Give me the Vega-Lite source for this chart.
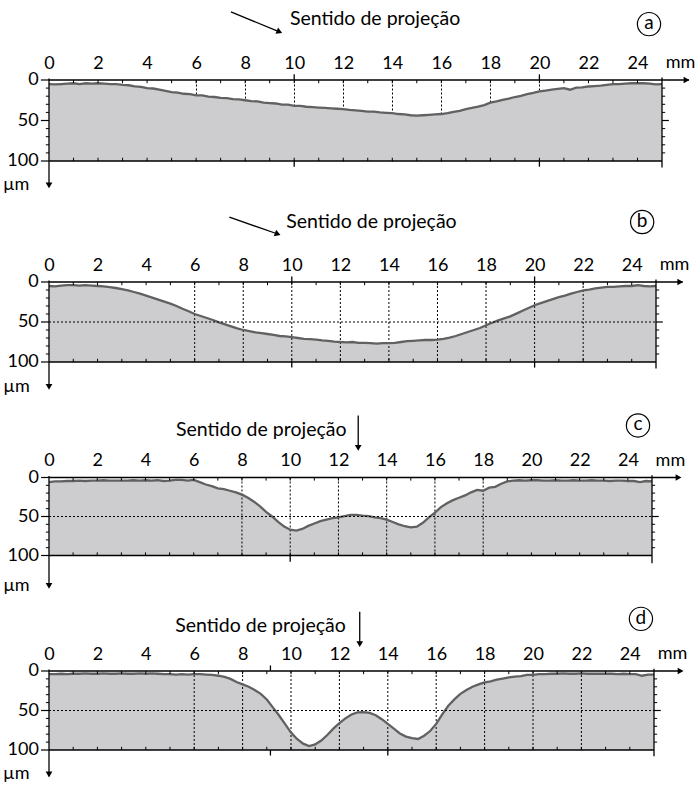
{
"$schema": "https://vega.github.io/schema/vega-lite/v6.json",
"padding": {"left": 2, "top": 9, "right": 0, "bottom": 0},
"bounds": "flush",
"spacing": 121,
"config": {"view": {"stroke": null}, "text": {"font": "Lato"}, "axis": {"labelFont": "Lato"}, "axisY": {"disable": true}},
"datasets": {
"a": [{"x":0,"d":5},{"x":0.25,"d":5.5},{"x":0.5,"d":5},{"x":0.75,"d":4.5},{"x":1,"d":4},{"x":1.25,"d":5},{"x":1.5,"d":4},{"x":1.75,"d":4.5},{"x":2,"d":4},{"x":2.25,"d":4.5},{"x":2.5,"d":5},{"x":2.75,"d":5},{"x":3,"d":6},{"x":3.25,"d":6.5},{"x":3.5,"d":8},{"x":3.75,"d":8.5},{"x":4,"d":10},{"x":4.25,"d":10.5},{"x":4.5,"d":12},{"x":4.75,"d":13.5},{"x":5,"d":15},{"x":5.25,"d":15.5},{"x":5.5,"d":17},{"x":5.75,"d":17.5},{"x":6,"d":19},{"x":6.25,"d":19},{"x":6.5,"d":20.5},{"x":6.75,"d":21},{"x":7,"d":22},{"x":7.25,"d":22.5},{"x":7.5,"d":23.5},{"x":7.75,"d":24},{"x":8,"d":25},{"x":8.25,"d":26},{"x":8.5,"d":26.5},{"x":8.75,"d":28},{"x":9,"d":28.5},{"x":9.25,"d":29},{"x":9.5,"d":30.5},{"x":9.75,"d":30.5},{"x":10,"d":32},{"x":10.25,"d":32},{"x":10.5,"d":33},{"x":10.75,"d":33.5},{"x":11,"d":34},{"x":11.25,"d":34.5},{"x":11.5,"d":35},{"x":11.75,"d":35.5},{"x":12,"d":36},{"x":12.25,"d":37},{"x":12.5,"d":37.5},{"x":12.75,"d":38},{"x":13,"d":39},{"x":13.25,"d":39},{"x":13.5,"d":40},{"x":13.75,"d":40.5},{"x":14,"d":41},{"x":14.25,"d":42},{"x":14.5,"d":42.5},{"x":14.75,"d":43.5},{"x":15,"d":44},{"x":15.25,"d":43.5},{"x":15.5,"d":43},{"x":15.75,"d":42.5},{"x":16,"d":42},{"x":16.25,"d":41},{"x":16.5,"d":39.5},{"x":16.75,"d":38},{"x":17,"d":36},{"x":17.25,"d":34.5},{"x":17.5,"d":33},{"x":17.75,"d":31},{"x":18,"d":28},{"x":18.25,"d":26.5},{"x":18.5,"d":24.5},{"x":18.75,"d":23},{"x":19,"d":21},{"x":19.25,"d":19.5},{"x":19.5,"d":17.5},{"x":19.75,"d":16},{"x":20,"d":14},{"x":20.25,"d":13},{"x":20.5,"d":12},{"x":20.75,"d":11},{"x":21,"d":10},{"x":21.25,"d":12},{"x":21.5,"d":9.5},{"x":21.75,"d":9},{"x":22,"d":8},{"x":22.25,"d":7.5},{"x":22.5,"d":7},{"x":22.75,"d":6},{"x":23,"d":5},{"x":23.25,"d":5},{"x":23.5,"d":4.5},{"x":23.75,"d":4},{"x":24,"d":4},{"x":24.25,"d":4},{"x":24.5,"d":4.5},{"x":24.75,"d":5.5},{"x":25,"d":5}],
"b": [{"x":0,"d":5},{"x":0.25,"d":5.5},{"x":0.5,"d":4.5},{"x":0.75,"d":4},{"x":1,"d":4},{"x":1.25,"d":4.5},{"x":1.5,"d":4},{"x":1.75,"d":4.5},{"x":2,"d":5},{"x":2.25,"d":5.5},{"x":2.5,"d":6.5},{"x":2.75,"d":7.5},{"x":3,"d":9},{"x":3.25,"d":10.5},{"x":3.5,"d":12.5},{"x":3.75,"d":14.5},{"x":4,"d":17},{"x":4.25,"d":19.5},{"x":4.5,"d":22},{"x":4.75,"d":24.5},{"x":5,"d":27},{"x":5.25,"d":30},{"x":5.5,"d":33.5},{"x":5.75,"d":36.5},{"x":6,"d":40},{"x":6.25,"d":42.5},{"x":6.5,"d":45},{"x":6.75,"d":47.5},{"x":7,"d":50.5},{"x":7.25,"d":53},{"x":7.5,"d":55.5},{"x":7.75,"d":58},{"x":8,"d":60},{"x":8.25,"d":61.5},{"x":8.5,"d":63},{"x":8.75,"d":64},{"x":9,"d":65},{"x":9.25,"d":66},{"x":9.5,"d":67.5},{"x":9.75,"d":68},{"x":10,"d":69},{"x":10.25,"d":70},{"x":10.5,"d":71},{"x":10.75,"d":71.5},{"x":11,"d":72},{"x":11.25,"d":73},{"x":11.5,"d":73.5},{"x":11.75,"d":74.5},{"x":12,"d":75},{"x":12.25,"d":75.5},{"x":12.5,"d":75},{"x":12.75,"d":76},{"x":13,"d":76},{"x":13.25,"d":76.5},{"x":13.5,"d":77},{"x":13.75,"d":76.5},{"x":14,"d":76.5},{"x":14.25,"d":76},{"x":14.5,"d":75},{"x":14.75,"d":74},{"x":15,"d":73.5},{"x":15.25,"d":73},{"x":15.5,"d":72.5},{"x":15.75,"d":72.5},{"x":16,"d":72},{"x":16.25,"d":71},{"x":16.5,"d":69.5},{"x":16.75,"d":67.5},{"x":17,"d":65},{"x":17.25,"d":62.5},{"x":17.5,"d":60},{"x":17.75,"d":57.5},{"x":18,"d":54},{"x":18.25,"d":51},{"x":18.5,"d":48},{"x":18.75,"d":45.5},{"x":19,"d":43},{"x":19.25,"d":39.5},{"x":19.5,"d":36},{"x":19.75,"d":32.5},{"x":20,"d":29},{"x":20.25,"d":26.5},{"x":20.5,"d":24},{"x":20.75,"d":21.5},{"x":21,"d":19},{"x":21.25,"d":17},{"x":21.5,"d":14.5},{"x":21.75,"d":12.5},{"x":22,"d":10.5},{"x":22.25,"d":9.5},{"x":22.5,"d":8},{"x":22.75,"d":7},{"x":23,"d":6},{"x":23.25,"d":6},{"x":23.5,"d":5.5},{"x":23.75,"d":5},{"x":24,"d":5},{"x":24.25,"d":4},{"x":24.5,"d":5},{"x":24.75,"d":5.5},{"x":25,"d":5}],
"c": [{"x":0,"d":6},{"x":0.25,"d":5},{"x":0.5,"d":5},{"x":0.75,"d":4.5},{"x":1,"d":4.5},{"x":1.25,"d":4},{"x":1.5,"d":4.5},{"x":1.75,"d":4},{"x":2,"d":4},{"x":2.25,"d":3.5},{"x":2.5,"d":4},{"x":2.75,"d":4},{"x":3,"d":4},{"x":3.25,"d":4},{"x":3.5,"d":3.5},{"x":3.75,"d":4},{"x":4,"d":3.5},{"x":4.25,"d":4},{"x":4.5,"d":3.5},{"x":4.75,"d":4.5},{"x":5,"d":4},{"x":5.25,"d":3},{"x":5.5,"d":3},{"x":5.75,"d":4},{"x":6,"d":3},{"x":6.25,"d":6},{"x":6.5,"d":9},{"x":6.75,"d":11},{"x":7,"d":14},{"x":7.25,"d":15},{"x":7.5,"d":17},{"x":7.75,"d":19},{"x":8,"d":22},{"x":8.25,"d":26},{"x":8.5,"d":31},{"x":8.75,"d":37},{"x":9,"d":44},{"x":9.25,"d":50},{"x":9.5,"d":57},{"x":9.75,"d":63},{"x":10,"d":67},{"x":10.25,"d":68},{"x":10.5,"d":66},{"x":10.75,"d":62},{"x":11,"d":59},{"x":11.25,"d":56},{"x":11.5,"d":54},{"x":11.75,"d":52},{"x":12,"d":51},{"x":12.25,"d":49.5},{"x":12.5,"d":48},{"x":12.75,"d":48},{"x":13,"d":49},{"x":13.25,"d":49.5},{"x":13.5,"d":51},{"x":13.75,"d":52},{"x":14,"d":54},{"x":14.25,"d":57},{"x":14.5,"d":60},{"x":14.75,"d":62.5},{"x":15,"d":64},{"x":15.25,"d":63},{"x":15.5,"d":58},{"x":15.75,"d":51},{"x":16,"d":45},{"x":16.25,"d":38},{"x":16.5,"d":33},{"x":16.75,"d":29},{"x":17,"d":26},{"x":17.25,"d":23},{"x":17.5,"d":19},{"x":17.75,"d":16},{"x":18,"d":17},{"x":18.25,"d":13},{"x":18.5,"d":12},{"x":18.75,"d":8},{"x":19,"d":5},{"x":19.25,"d":4},{"x":19.5,"d":3.5},{"x":19.75,"d":4},{"x":20,"d":3.5},{"x":20.25,"d":3.5},{"x":20.5,"d":4},{"x":20.75,"d":4},{"x":21,"d":3.5},{"x":21.25,"d":4},{"x":21.5,"d":4},{"x":21.75,"d":3.5},{"x":22,"d":4},{"x":22.25,"d":4},{"x":22.5,"d":3.5},{"x":22.75,"d":4},{"x":23,"d":4},{"x":23.25,"d":4.5},{"x":23.5,"d":4},{"x":23.75,"d":4},{"x":24,"d":4.5},{"x":24.25,"d":4.5},{"x":24.5,"d":6},{"x":24.75,"d":4.5},{"x":25,"d":5}],
"d": [{"x":0,"d":4},{"x":0.25,"d":4},{"x":0.5,"d":3.5},{"x":0.75,"d":4},{"x":1,"d":3.5},{"x":1.25,"d":3.5},{"x":1.5,"d":3},{"x":1.75,"d":3.5},{"x":2,"d":3.5},{"x":2.25,"d":3},{"x":2.5,"d":3.5},{"x":2.75,"d":3.5},{"x":3,"d":3},{"x":3.25,"d":3.5},{"x":3.5,"d":3.5},{"x":3.75,"d":3},{"x":4,"d":3.5},{"x":4.25,"d":3},{"x":4.5,"d":3.5},{"x":4.75,"d":4},{"x":5,"d":4},{"x":5.25,"d":4.5},{"x":5.5,"d":4},{"x":5.75,"d":4.5},{"x":6,"d":4},{"x":6.25,"d":4},{"x":6.5,"d":4.5},{"x":6.75,"d":5},{"x":7,"d":6},{"x":7.25,"d":7.5},{"x":7.5,"d":10},{"x":7.75,"d":14},{"x":8,"d":17},{"x":8.25,"d":20},{"x":8.5,"d":24},{"x":8.75,"d":29},{"x":9,"d":36},{"x":9.25,"d":46},{"x":9.5,"d":56},{"x":9.75,"d":67},{"x":10,"d":78},{"x":10.25,"d":86},{"x":10.5,"d":92},{"x":10.75,"d":95},{"x":11,"d":93},{"x":11.25,"d":88},{"x":11.5,"d":81},{"x":11.75,"d":73},{"x":12,"d":66},{"x":12.25,"d":60},{"x":12.5,"d":55},{"x":12.75,"d":52.5},{"x":13,"d":52},{"x":13.25,"d":53},{"x":13.5,"d":56},{"x":13.75,"d":61},{"x":14,"d":67},{"x":14.25,"d":73},{"x":14.5,"d":79},{"x":14.75,"d":83},{"x":15,"d":85},{"x":15.25,"d":86},{"x":15.5,"d":82},{"x":15.75,"d":76},{"x":16,"d":67},{"x":16.25,"d":55},{"x":16.5,"d":44},{"x":16.75,"d":36},{"x":17,"d":29},{"x":17.25,"d":24},{"x":17.5,"d":20},{"x":17.75,"d":17},{"x":18,"d":14.5},{"x":18.25,"d":13},{"x":18.5,"d":11},{"x":18.75,"d":9.5},{"x":19,"d":8},{"x":19.25,"d":7},{"x":19.5,"d":6.5},{"x":19.75,"d":5},{"x":20,"d":5},{"x":20.25,"d":4},{"x":20.5,"d":4},{"x":20.75,"d":3.5},{"x":21,"d":3.5},{"x":21.25,"d":3},{"x":21.5,"d":3.5},{"x":21.75,"d":3.5},{"x":22,"d":3},{"x":22.25,"d":3.5},{"x":22.5,"d":3.5},{"x":22.75,"d":3.5},{"x":23,"d":3.5},{"x":23.25,"d":3.5},{"x":23.5,"d":4},{"x":23.75,"d":3.5},{"x":24,"d":4},{"x":24.25,"d":4},{"x":24.5,"d":6},{"x":24.75,"d":4.5},{"x":25,"d":4.5}],
"tk": [{"t":1},{"t":2},{"t":3},{"t":4},{"t":5},{"t":6},{"t":7},{"t":8},{"t":9},{"t":10},{"t":11},{"t":12},{"t":13},{"t":14},{"t":15},{"t":16},{"t":17},{"t":18},{"t":19},{"t":20},{"t":21},{"t":22},{"t":23},{"t":24}],
"yt": [{"v":10},{"v":20},{"v":30},{"v":40},{"v":60},{"v":70},{"v":80},{"v":90}],
"yl": [{"v":0},{"v":50},{"v":100}],
"gbd": [{"g":6},{"g":8},{"g":10},{"g":12},{"g":14},{"g":16},{"g":18},{"g":20},{"g":22}],
"gc": [{"g":8},{"g":10},{"g":12},{"g":14},{"g":16},{"g":18}]
},
"vconcat": [
{
"width": 613, "height": 81,
"layer": [
{"data": {"name": "a"}, "mark": {"type": "area", "color": "#cdcdcf"},
 "encoding": {
  "x": {"field": "x", "type": "quantitative", "scale": {"domain": [0, 25], "nice": false, "zero": false},
   "axis": {"orient": "top", "values": [0,2,4,6,8,10,12,14,16,18,20,22,24], "domain": false, "ticks": false, "tickSize": 0, "labelPadding": 12, "labelBaseline": "alphabetic", "labelFontSize": 18, "labelColor": "black", "labelFlush": false, "labelOverlap": false, "title": null, "grid": true, "gridColor": "black", "gridDash": [2, 2], "gridWidth": 1, "gridOpacity": {"condition": {"test": "datum.value >= 6 && datum.value <= 20", "value": 1}, "value": 0}}},
  "y": {"field": "d", "type": "quantitative", "scale": {"domain": [0, 100], "reverse": true, "nice": false, "zero": false}},
  "y2": {"datum": 100}}},
{"data": {"name": "a"}, "mark": {"type": "line", "color": "#616161", "strokeWidth": 2.3},
 "encoding": {"x": {"field": "x", "type": "quantitative"}, "y": {"field": "d", "type": "quantitative"}}},
{"data": {"name": "tk"}, "mark": {"type": "rule", "color": "black", "strokeWidth": 1},
 "encoding": {"x": {"field": "t", "type": "quantitative"}, "y": {"datum": 0}, "y2": {"datum": 4}}},
{"data": {"name": "tk"}, "mark": {"type": "rule", "color": "black", "strokeWidth": 1},
 "encoding": {"x": {"field": "t", "type": "quantitative"}, "y": {"datum": 96}, "y2": {"datum": 100}}},
{"data": {"name": "yt"}, "mark": {"type": "rule", "color": "black", "strokeWidth": 1},
 "encoding": {"y": {"field": "v", "type": "quantitative"}, "x": {"datum": -0.13}, "x2": {"datum": 0}}},
{"data": {"name": "yt"}, "mark": {"type": "rule", "color": "black", "strokeWidth": 1},
 "encoding": {"y": {"field": "v", "type": "quantitative"}, "x": {"datum": 25}, "x2": {"datum": 25.13}}},
{"data": {"name": "yl"}, "mark": {"type": "rule", "color": "black", "strokeWidth": 1.2},
 "encoding": {"y": {"field": "v", "type": "quantitative"}, "x": {"datum": -0.33}, "x2": {"datum": 0}}},
{"data": {"name": "yl"}, "mark": {"type": "text", "color": "black", "fontSize": 18, "align": "right", "baseline": "middle"},
 "encoding": {"y": {"field": "v", "type": "quantitative"}, "x": {"datum": -0.42}, "text": {"field": "v", "type": "quantitative"}}},
{"data": {"values": [{}]},
 "layer": [
  {"mark": {"type": "rule", "color": "black", "strokeWidth": 1.3}, "encoding": {"x": {"datum": 0}, "x2": {"datum": 26.1}, "y": {"datum": 0}}},
  {"mark": {"type": "rule", "color": "black", "strokeWidth": 1.3}, "encoding": {"x": {"datum": 0}, "x2": {"datum": 25}, "y": {"datum": 100}}},
  {"mark": {"type": "rule", "color": "black", "strokeWidth": 1.3}, "encoding": {"x": {"datum": 0}, "y": {"datum": -2}, "y2": {"datum": 130}}},
  {"mark": {"type": "rule", "color": "black", "strokeWidth": 1.3}, "encoding": {"x": {"datum": 25}, "y": {"datum": -3}, "y2": {"datum": 108}}},
  {"mark": {"type": "rule", "color": "black", "strokeWidth": 1.3}, "encoding": {"x": {"datum": 10}, "y": {"datum": -7}, "y2": {"datum": 0}}},
  {"mark": {"type": "rule", "color": "black", "strokeWidth": 1.3}, "encoding": {"x": {"datum": 20}, "y": {"datum": -7}, "y2": {"datum": 0}}},
  {"mark": {"type": "rule", "color": "black", "strokeWidth": 1.3}, "encoding": {"x": {"datum": 10}, "y": {"datum": 100}, "y2": {"datum": 107}}},
  {"mark": {"type": "rule", "color": "black", "strokeWidth": 1.3}, "encoding": {"x": {"datum": 20}, "y": {"datum": 100}, "y2": {"datum": 107}}},
  {"mark": {"type": "rule", "color": "black", "strokeWidth": 1.2}, "encoding": {"x": {"datum": 25}, "x2": {"datum": 25.28}, "y": {"datum": 50}}},
  {"mark": {"type": "point", "shape": "triangle-right", "filled": true, "color": "black", "size": 45, "opacity": 1}, "encoding": {"x": {"datum": 26.0}, "y": {"datum": 0}}},
  {"mark": {"type": "point", "shape": "triangle-down", "filled": true, "color": "black", "size": 45, "opacity": 1}, "encoding": {"x": {"datum": 0}, "y": {"datum": 130}}},
  {"mark": {"type": "text", "text": "mm", "fontSize": 18, "align": "left", "baseline": "alphabetic", "color": "black"}, "encoding": {"x": {"datum": 25.15}, "y": {"datum": -15}}},
  {"mark": {"type": "text", "text": "µm", "fontSize": 18, "align": "left", "baseline": "middle", "color": "black"}, "encoding": {"x": {"datum": -1.88}, "y": {"datum": 130}}},
  {"mark": {"type": "text", "text": "Sentido de projeção", "fontSize": 19.5, "align": "center", "baseline": "middle", "color": "black"}, "encoding": {"x": {"datum": 13.3}, "y": {"datum": -75}}},
  {"mark": {"type": "rule", "color": "black", "strokeWidth": 1.3}, "encoding": {"x": {"datum": 7.42}, "y": {"datum": -84}, "x2": {"datum": 9.4}, "y2": {"datum": -59.5}}},
  {"mark": {"type": "point", "shape": "triangle-right", "filled": true, "color": "black", "size": 45, "angle": 23, "opacity": 1}, "encoding": {"x": {"datum": 9.4}, "y": {"datum": -59.5}}},
  {"mark": {"type": "point", "shape": "circle", "filled": false, "color": "black", "strokeWidth": 1.2, "size": 540, "opacity": 1}, "encoding": {"x": {"datum": 24.47}, "y": {"datum": -69}}},
  {"mark": {"type": "text", "text": "a", "fontSize": 19, "align": "center", "baseline": "middle", "color": "black"}, "encoding": {"x": {"datum": 24.47}, "y": {"datum": -70}}}
 ]}
]
},
{
"bounds": "flush",
"spacing": 115.5,
"vconcat": [
{
"width": 607, "height": 80,
"layer": [
{"data": {"name": "b"}, "mark": {"type": "area", "color": "#cdcdcf"},
 "encoding": {
  "x": {"field": "x", "type": "quantitative", "scale": {"domain": [0, 25], "nice": false, "zero": false},
   "axis": {"orient": "top", "values": [0,2,4,6,8,10,12,14,16,18,20,22,24], "domain": false, "ticks": false, "tickSize": 0, "labelPadding": 12, "labelBaseline": "alphabetic", "labelFontSize": 18, "labelColor": "black", "labelFlush": false, "labelOverlap": false, "title": null, "grid": false}},
  "y": {"field": "d", "type": "quantitative", "scale": {"domain": [0, 100], "reverse": true, "nice": false, "zero": false}},
  "y2": {"datum": 100}}},
{"data": {"name": "gbd"}, "mark": {"type": "rule", "color": "black", "strokeWidth": 1, "strokeDash": [2, 2]},
 "encoding": {"x": {"field": "g", "type": "quantitative"}, "y": {"datum": 0}, "y2": {"datum": 100}}},
{"data": {"name": "b"}, "mark": {"type": "line", "color": "#616161", "strokeWidth": 2.3},
 "encoding": {"x": {"field": "x", "type": "quantitative"}, "y": {"field": "d", "type": "quantitative"}}},
{"data": {"name": "tk"}, "mark": {"type": "rule", "color": "black", "strokeWidth": 1},
 "encoding": {"x": {"field": "t", "type": "quantitative"}, "y": {"datum": 0}, "y2": {"datum": 4}}},
{"data": {"name": "tk"}, "mark": {"type": "rule", "color": "black", "strokeWidth": 1},
 "encoding": {"x": {"field": "t", "type": "quantitative"}, "y": {"datum": 96}, "y2": {"datum": 100}}},
{"data": {"name": "yt"}, "mark": {"type": "rule", "color": "black", "strokeWidth": 1},
 "encoding": {"y": {"field": "v", "type": "quantitative"}, "x": {"datum": -0.13}, "x2": {"datum": 0}}},
{"data": {"name": "yt"}, "mark": {"type": "rule", "color": "black", "strokeWidth": 1},
 "encoding": {"y": {"field": "v", "type": "quantitative"}, "x": {"datum": 25}, "x2": {"datum": 25.13}}},
{"data": {"name": "yl"}, "mark": {"type": "rule", "color": "black", "strokeWidth": 1.2},
 "encoding": {"y": {"field": "v", "type": "quantitative"}, "x": {"datum": -0.33}, "x2": {"datum": 0}}},
{"data": {"name": "yl"}, "mark": {"type": "text", "color": "black", "fontSize": 18, "align": "right", "baseline": "middle"},
 "encoding": {"y": {"field": "v", "type": "quantitative"}, "x": {"datum": -0.42}, "text": {"field": "v", "type": "quantitative"}}},
{"data": {"values": [{}]},
 "layer": [
  {"mark": {"type": "rule", "color": "black", "strokeWidth": 1, "strokeDash": [2, 2]}, "encoding": {"x": {"datum": 0}, "x2": {"datum": 25}, "y": {"datum": 50}}},
  {"mark": {"type": "rule", "color": "black", "strokeWidth": 1.3}, "encoding": {"x": {"datum": 0}, "x2": {"datum": 26.1}, "y": {"datum": 0}}},
  {"mark": {"type": "rule", "color": "black", "strokeWidth": 1.3}, "encoding": {"x": {"datum": 0}, "x2": {"datum": 25}, "y": {"datum": 100}}},
  {"mark": {"type": "rule", "color": "black", "strokeWidth": 1.3}, "encoding": {"x": {"datum": 0}, "y": {"datum": -2}, "y2": {"datum": 131}}},
  {"mark": {"type": "rule", "color": "black", "strokeWidth": 1.3}, "encoding": {"x": {"datum": 25}, "y": {"datum": -3}, "y2": {"datum": 108}}},
  {"mark": {"type": "rule", "color": "black", "strokeWidth": 1.3}, "encoding": {"x": {"datum": 10}, "y": {"datum": -7}, "y2": {"datum": 0}}},
  {"mark": {"type": "rule", "color": "black", "strokeWidth": 1.3}, "encoding": {"x": {"datum": 20}, "y": {"datum": -7}, "y2": {"datum": 0}}},
  {"mark": {"type": "rule", "color": "black", "strokeWidth": 1.3}, "encoding": {"x": {"datum": 10}, "y": {"datum": 100}, "y2": {"datum": 107}}},
  {"mark": {"type": "rule", "color": "black", "strokeWidth": 1.3}, "encoding": {"x": {"datum": 20}, "y": {"datum": 100}, "y2": {"datum": 107}}},
  {"mark": {"type": "rule", "color": "black", "strokeWidth": 1.2}, "encoding": {"x": {"datum": 25}, "x2": {"datum": 25.28}, "y": {"datum": 50}}},
  {"mark": {"type": "point", "shape": "triangle-right", "filled": true, "color": "black", "size": 45, "opacity": 1}, "encoding": {"x": {"datum": 26.0}, "y": {"datum": 0}}},
  {"mark": {"type": "point", "shape": "triangle-down", "filled": true, "color": "black", "size": 45, "opacity": 1}, "encoding": {"x": {"datum": 0}, "y": {"datum": 131}}},
  {"mark": {"type": "text", "text": "mm", "fontSize": 18, "align": "left", "baseline": "alphabetic", "color": "black"}, "encoding": {"x": {"datum": 25.15}, "y": {"datum": -15}}},
  {"mark": {"type": "text", "text": "µm", "fontSize": 18, "align": "left", "baseline": "middle", "color": "black"}, "encoding": {"x": {"datum": -1.88}, "y": {"datum": 131}}},
  {"mark": {"type": "text", "text": "Sentido de projeção", "fontSize": 19.5, "align": "center", "baseline": "middle", "color": "black"}, "encoding": {"x": {"datum": 13.28}, "y": {"datum": -75}}},
  {"mark": {"type": "rule", "color": "black", "strokeWidth": 1.3}, "encoding": {"x": {"datum": 7.43}, "y": {"datum": -81}, "x2": {"datum": 9.42}, "y2": {"datum": -60}}},
  {"mark": {"type": "point", "shape": "triangle-right", "filled": true, "color": "black", "size": 45, "angle": 20, "opacity": 1}, "encoding": {"x": {"datum": 9.42}, "y": {"datum": -60}}},
  {"mark": {"type": "point", "shape": "circle", "filled": false, "color": "black", "strokeWidth": 1.2, "size": 540, "opacity": 1}, "encoding": {"x": {"datum": 24.43}, "y": {"datum": -75}}},
  {"mark": {"type": "text", "text": "b", "fontSize": 19, "align": "center", "baseline": "middle", "color": "black"}, "encoding": {"x": {"datum": 24.43}, "y": {"datum": -76}}}
 ]}
]
},
{
"width": 603, "height": 78,
"layer": [
{"data": {"name": "c"}, "mark": {"type": "area", "color": "#cdcdcf"},
 "encoding": {
  "x": {"field": "x", "type": "quantitative", "scale": {"domain": [0, 25], "nice": false, "zero": false},
   "axis": {"orient": "top", "values": [0,2,4,6,8,10,12,14,16,18,20,22,24], "domain": false, "ticks": false, "tickSize": 0, "labelPadding": 12, "labelBaseline": "alphabetic", "labelFontSize": 18, "labelColor": "black", "labelFlush": false, "labelOverlap": false, "title": null, "grid": false}},
  "y": {"field": "d", "type": "quantitative", "scale": {"domain": [0, 100], "reverse": true, "nice": false, "zero": false}},
  "y2": {"datum": 100}}},
{"data": {"name": "gc"}, "mark": {"type": "rule", "color": "black", "strokeWidth": 1, "strokeDash": [2, 2]},
 "encoding": {"x": {"field": "g", "type": "quantitative"}, "y": {"datum": 0}, "y2": {"datum": 100}}},
{"data": {"name": "c"}, "mark": {"type": "line", "color": "#616161", "strokeWidth": 2.3},
 "encoding": {"x": {"field": "x", "type": "quantitative"}, "y": {"field": "d", "type": "quantitative"}}},
{"data": {"name": "tk"}, "mark": {"type": "rule", "color": "black", "strokeWidth": 1},
 "encoding": {"x": {"field": "t", "type": "quantitative"}, "y": {"datum": 0}, "y2": {"datum": 4}}},
{"data": {"name": "tk"}, "mark": {"type": "rule", "color": "black", "strokeWidth": 1},
 "encoding": {"x": {"field": "t", "type": "quantitative"}, "y": {"datum": 96}, "y2": {"datum": 100}}},
{"data": {"name": "yt"}, "mark": {"type": "rule", "color": "black", "strokeWidth": 1},
 "encoding": {"y": {"field": "v", "type": "quantitative"}, "x": {"datum": -0.13}, "x2": {"datum": 0}}},
{"data": {"name": "yt"}, "mark": {"type": "rule", "color": "black", "strokeWidth": 1},
 "encoding": {"y": {"field": "v", "type": "quantitative"}, "x": {"datum": 25}, "x2": {"datum": 25.13}}},
{"data": {"name": "yl"}, "mark": {"type": "rule", "color": "black", "strokeWidth": 1.2},
 "encoding": {"y": {"field": "v", "type": "quantitative"}, "x": {"datum": -0.33}, "x2": {"datum": 0}}},
{"data": {"name": "yl"}, "mark": {"type": "text", "color": "black", "fontSize": 18, "align": "right", "baseline": "middle"},
 "encoding": {"y": {"field": "v", "type": "quantitative"}, "x": {"datum": -0.42}, "text": {"field": "v", "type": "quantitative"}}},
{"data": {"values": [{}]},
 "layer": [
  {"mark": {"type": "rule", "color": "black", "strokeWidth": 1, "strokeDash": [2, 2]}, "encoding": {"x": {"datum": 0}, "x2": {"datum": 25}, "y": {"datum": 50}}},
  {"mark": {"type": "rule", "color": "black", "strokeWidth": 1.3}, "encoding": {"x": {"datum": 0}, "x2": {"datum": 26.1}, "y": {"datum": 0}}},
  {"mark": {"type": "rule", "color": "black", "strokeWidth": 1.3}, "encoding": {"x": {"datum": 0}, "x2": {"datum": 25}, "y": {"datum": 100}}},
  {"mark": {"type": "rule", "color": "black", "strokeWidth": 1.3}, "encoding": {"x": {"datum": 0}, "y": {"datum": -2}, "y2": {"datum": 139}}},
  {"mark": {"type": "rule", "color": "black", "strokeWidth": 1.3}, "encoding": {"x": {"datum": 25}, "y": {"datum": -3}, "y2": {"datum": 110}}},
  {"mark": {"type": "rule", "color": "black", "strokeWidth": 1.3}, "encoding": {"x": {"datum": 10}, "y": {"datum": 100}, "y2": {"datum": 108}}},
  {"mark": {"type": "rule", "color": "black", "strokeWidth": 1.2}, "encoding": {"x": {"datum": 25}, "x2": {"datum": 25.28}, "y": {"datum": 50}}},
  {"mark": {"type": "point", "shape": "triangle-right", "filled": true, "color": "black", "size": 45, "opacity": 1}, "encoding": {"x": {"datum": 26.1}, "y": {"datum": 0}}},
  {"mark": {"type": "point", "shape": "triangle-down", "filled": true, "color": "black", "size": 45, "opacity": 1}, "encoding": {"x": {"datum": 0}, "y": {"datum": 139}}},
  {"mark": {"type": "text", "text": "mm", "fontSize": 18, "align": "left", "baseline": "alphabetic", "color": "black"}, "encoding": {"x": {"datum": 25.15}, "y": {"datum": -15}}},
  {"mark": {"type": "text", "text": "µm", "fontSize": 18, "align": "left", "baseline": "middle", "color": "black"}, "encoding": {"x": {"datum": -1.9}, "y": {"datum": 139}}},
  {"mark": {"type": "text", "text": "Sentido de projeção", "fontSize": 19.5, "align": "center", "baseline": "middle", "color": "black"}, "encoding": {"x": {"datum": 8.8}, "y": {"datum": -61.5}}},
  {"mark": {"type": "rule", "color": "black", "strokeWidth": 1.3}, "encoding": {"x": {"datum": 12.82}, "y": {"datum": -79.5}, "y2": {"datum": -38}}},
  {"mark": {"type": "point", "shape": "triangle-down", "filled": true, "color": "black", "size": 45, "opacity": 1}, "encoding": {"x": {"datum": 12.82}, "y": {"datum": -38}}},
  {"mark": {"type": "point", "shape": "circle", "filled": false, "color": "black", "strokeWidth": 1.2, "size": 540, "opacity": 1}, "encoding": {"x": {"datum": 24.42}, "y": {"datum": -66.7}}},
  {"mark": {"type": "text", "text": "c", "fontSize": 19, "align": "center", "baseline": "middle", "color": "black"}, "encoding": {"x": {"datum": 24.42}, "y": {"datum": -68}}}
 ]}
]
},
{
"width": 605, "height": 79,
"layer": [
{"data": {"name": "d"}, "mark": {"type": "area", "color": "#cdcdcf"},
 "encoding": {
  "x": {"field": "x", "type": "quantitative", "scale": {"domain": [0, 25], "nice": false, "zero": false},
   "axis": {"orient": "top", "values": [0,2,4,6,8,10,12,14,16,18,20,22,24], "domain": false, "ticks": false, "tickSize": 0, "labelPadding": 12, "labelBaseline": "alphabetic", "labelFontSize": 18, "labelColor": "black", "labelFlush": false, "labelOverlap": false, "title": null, "grid": false}},
  "y": {"field": "d", "type": "quantitative", "scale": {"domain": [0, 100], "reverse": true, "nice": false, "zero": false}},
  "y2": {"datum": 100}}},
{"data": {"name": "gbd"}, "mark": {"type": "rule", "color": "black", "strokeWidth": 1, "strokeDash": [2, 2]},
 "encoding": {"x": {"field": "g", "type": "quantitative"}, "y": {"datum": 0}, "y2": {"datum": 100}}},
{"data": {"name": "d"}, "mark": {"type": "line", "color": "#616161", "strokeWidth": 2.3},
 "encoding": {"x": {"field": "x", "type": "quantitative"}, "y": {"field": "d", "type": "quantitative"}}},
{"data": {"name": "tk"}, "mark": {"type": "rule", "color": "black", "strokeWidth": 1},
 "encoding": {"x": {"field": "t", "type": "quantitative"}, "y": {"datum": 0}, "y2": {"datum": 4}}},
{"data": {"name": "tk"}, "mark": {"type": "rule", "color": "black", "strokeWidth": 1},
 "encoding": {"x": {"field": "t", "type": "quantitative"}, "y": {"datum": 96}, "y2": {"datum": 100}}},
{"data": {"name": "yt"}, "mark": {"type": "rule", "color": "black", "strokeWidth": 1},
 "encoding": {"y": {"field": "v", "type": "quantitative"}, "x": {"datum": -0.13}, "x2": {"datum": 0}}},
{"data": {"name": "yt"}, "mark": {"type": "rule", "color": "black", "strokeWidth": 1},
 "encoding": {"y": {"field": "v", "type": "quantitative"}, "x": {"datum": 25}, "x2": {"datum": 25.13}}},
{"data": {"name": "yl"}, "mark": {"type": "rule", "color": "black", "strokeWidth": 1.2},
 "encoding": {"y": {"field": "v", "type": "quantitative"}, "x": {"datum": -0.33}, "x2": {"datum": 0}}},
{"data": {"name": "yl"}, "mark": {"type": "text", "color": "black", "fontSize": 18, "align": "right", "baseline": "middle"},
 "encoding": {"y": {"field": "v", "type": "quantitative"}, "x": {"datum": -0.42}, "text": {"field": "v", "type": "quantitative"}}},
{"data": {"values": [{}]},
 "layer": [
  {"mark": {"type": "rule", "color": "black", "strokeWidth": 1, "strokeDash": [2, 2]}, "encoding": {"x": {"datum": 0}, "x2": {"datum": 25}, "y": {"datum": 50}}},
  {"mark": {"type": "rule", "color": "black", "strokeWidth": 1.3}, "encoding": {"x": {"datum": 0}, "x2": {"datum": 26.1}, "y": {"datum": 0}}},
  {"mark": {"type": "rule", "color": "black", "strokeWidth": 1.3}, "encoding": {"x": {"datum": 0}, "x2": {"datum": 25}, "y": {"datum": 100}}},
  {"mark": {"type": "rule", "color": "black", "strokeWidth": 1.3}, "encoding": {"x": {"datum": 0}, "y": {"datum": -2}, "y2": {"datum": 131}}},
  {"mark": {"type": "rule", "color": "black", "strokeWidth": 1.3}, "encoding": {"x": {"datum": 25}, "y": {"datum": -3}, "y2": {"datum": 108}}},
  {"mark": {"type": "rule", "color": "black", "strokeWidth": 1.3}, "encoding": {"x": {"datum": 9.15}, "y": {"datum": -7}, "y2": {"datum": 0}}},
  {"mark": {"type": "rule", "color": "black", "strokeWidth": 1.3}, "encoding": {"x": {"datum": 9.15}, "y": {"datum": 100}, "y2": {"datum": 107}}},
  {"mark": {"type": "rule", "color": "black", "strokeWidth": 1.3}, "encoding": {"x": {"datum": 14}, "y": {"datum": 100}, "y2": {"datum": 107}}},
  {"mark": {"type": "rule", "color": "black", "strokeWidth": 1.2}, "encoding": {"x": {"datum": 25}, "x2": {"datum": 25.28}, "y": {"datum": 50}}},
  {"mark": {"type": "point", "shape": "triangle-right", "filled": true, "color": "black", "size": 45, "opacity": 1}, "encoding": {"x": {"datum": 26.1}, "y": {"datum": 0}}},
  {"mark": {"type": "point", "shape": "triangle-down", "filled": true, "color": "black", "size": 45, "opacity": 1}, "encoding": {"x": {"datum": 0}, "y": {"datum": 131}}},
  {"mark": {"type": "text", "text": "mm", "fontSize": 18, "align": "left", "baseline": "alphabetic", "color": "black"}, "encoding": {"x": {"datum": 25.15}, "y": {"datum": -15}}},
  {"mark": {"type": "text", "text": "µm", "fontSize": 18, "align": "left", "baseline": "middle", "color": "black"}, "encoding": {"x": {"datum": -1.9}, "y": {"datum": 131}}},
  {"mark": {"type": "text", "text": "Sentido de projeção", "fontSize": 19.5, "align": "center", "baseline": "middle", "color": "black"}, "encoding": {"x": {"datum": 8.74}, "y": {"datum": -57}}},
  {"mark": {"type": "rule", "color": "black", "strokeWidth": 1.3}, "encoding": {"x": {"datum": 12.84}, "y": {"datum": -75}, "y2": {"datum": -34}}},
  {"mark": {"type": "point", "shape": "triangle-down", "filled": true, "color": "black", "size": 45, "opacity": 1}, "encoding": {"x": {"datum": 12.84}, "y": {"datum": -34}}},
  {"mark": {"type": "point", "shape": "circle", "filled": false, "color": "black", "strokeWidth": 1.2, "size": 540, "opacity": 1}, "encoding": {"x": {"datum": 24.46}, "y": {"datum": -66}}},
  {"mark": {"type": "text", "text": "d", "fontSize": 19, "align": "center", "baseline": "middle", "color": "black"}, "encoding": {"x": {"datum": 24.46}, "y": {"datum": -67}}}
 ]}
]
}
]
}
]
}
